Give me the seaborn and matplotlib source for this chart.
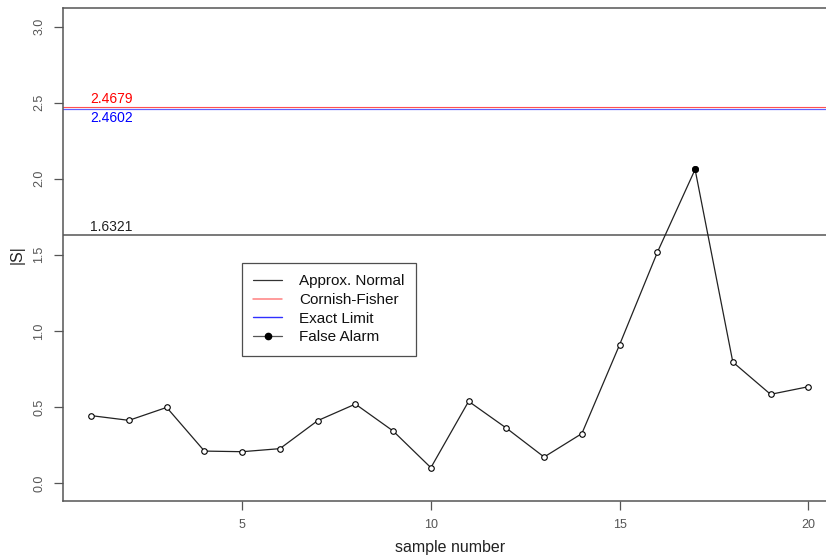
import matplotlib
matplotlib.use("Agg")
import matplotlib.pyplot as plt
import seaborn as sns
import pandas as pd
from matplotlib.lines import Line2D

sample = list(range(1, 21))
s_abs = [0.443, 0.412, 0.497, 0.210, 0.206, 0.226, 0.410, 0.519, 0.342, 0.101,
         0.537, 0.361, 0.171, 0.325, 0.909, 1.516, 2.061, 0.795, 0.583, 0.633]
alarm_idx = [17]
limit_normal = 1.6321
limit_cf = 2.4679
limit_exact = 2.4602
legend_labels = ["Approx. Normal", "Cornish-Fisher", "Exact Limit", "False Alarm"]

sns.set_style("white")
plt.rcParams["font.family"] = ["Liberation Sans", "DejaVu Sans"]

df = pd.DataFrame({"sample": sample, "S": s_abs})
alarm = df[df["sample"].isin(alarm_idx)]

fig = plt.figure(figsize=(8.26, 5.59), dpi=100)
ax = fig.add_axes([62.5 / 826, 57.7 / 559, (837 - 62.5) / 826, (501.3 - 8.3) / 559])

ax.axhline(limit_normal, color="#555555", lw=1.1, zorder=1)
ax.axhline(limit_exact, color="#6060ff", lw=0.9, zorder=1)
ax.axhline(limit_cf + 0.003, color="#ff5050", lw=0.8, zorder=2)

sns.lineplot(data=df, x="sample", y="S", ax=ax, color="#222222", lw=0.9,
             marker="o", markersize=4, markerfacecolor="white",
             markeredgecolor="black", markeredgewidth=0.8, zorder=3)
sns.scatterplot(data=alarm, x="sample", y="S", ax=ax, color="black", s=22,
                edgecolor="black", zorder=4)

ax.text(0.97, limit_cf + 0.012, f"{limit_cf:.4f}", color="red", fontsize=10,
        ha="left", va="bottom")
ax.text(0.97, limit_exact - 0.012, f"{limit_exact:.4f}", color="blue", fontsize=10,
        ha="left", va="top")
ax.text(0.97, limit_normal + 0.005, f"{limit_normal:.4f}", color="#222222", fontsize=10,
        ha="left", va="bottom")

ax.set_xlim(0.24, 20.76)
ax.set_ylim(-0.12, 3.12)
ax.set_xticks([5, 10, 15, 20])
ax.set_yticks([0.0, 0.5, 1.0, 1.5, 2.0, 2.5, 3.0])
ax.set_yticklabels([f"{v:.1f}" for v in [0.0, 0.5, 1.0, 1.5, 2.0, 2.5, 3.0]],
                   rotation=90, va="center")
ax.tick_params(axis="both", direction="out", length=6.5, width=0.9, color="#555555",
               labelcolor="#555555", labelsize=9, pad=6, left=True, bottom=True)
ax.set_xlabel("sample number", fontsize=11.5, color="#222222", labelpad=7)
ax.set_ylabel("|S|", fontsize=11.5, color="#222222", labelpad=6)

for side in ["left", "bottom", "top"]:
    ax.spines[side].set_color("#555555")
    ax.spines[side].set_linewidth(1.1)
ax.spines["right"].set_visible(False)

handles = [
    Line2D([0], [0], color="#333333", lw=0.9),
    Line2D([0], [0], color="#ff8080", lw=1.1),
    Line2D([0], [0], color="#3030ff", lw=1.0),
    Line2D([0], [0], color="#555555", lw=0.9, marker="o", markersize=4.5,
           markerfacecolor="black", markeredgecolor="black"),
]
leg = ax.legend(handles, legend_labels, loc="upper left",
                bbox_to_anchor=(242 / 826, 1 - 263 / 559),
                bbox_transform=fig.transFigure, frameon=True, fancybox=False,
                fontsize=11, handlelength=1.9, handletextpad=1.1,
                labelspacing=0.3, borderpad=0.75, borderaxespad=0.0)
leg.get_frame().set_edgecolor("#222222")
leg.get_frame().set_linewidth(0.9)
for t in leg.get_texts():
    t.set_color("#111111")

fig.savefig("out.png", dpi=100)
